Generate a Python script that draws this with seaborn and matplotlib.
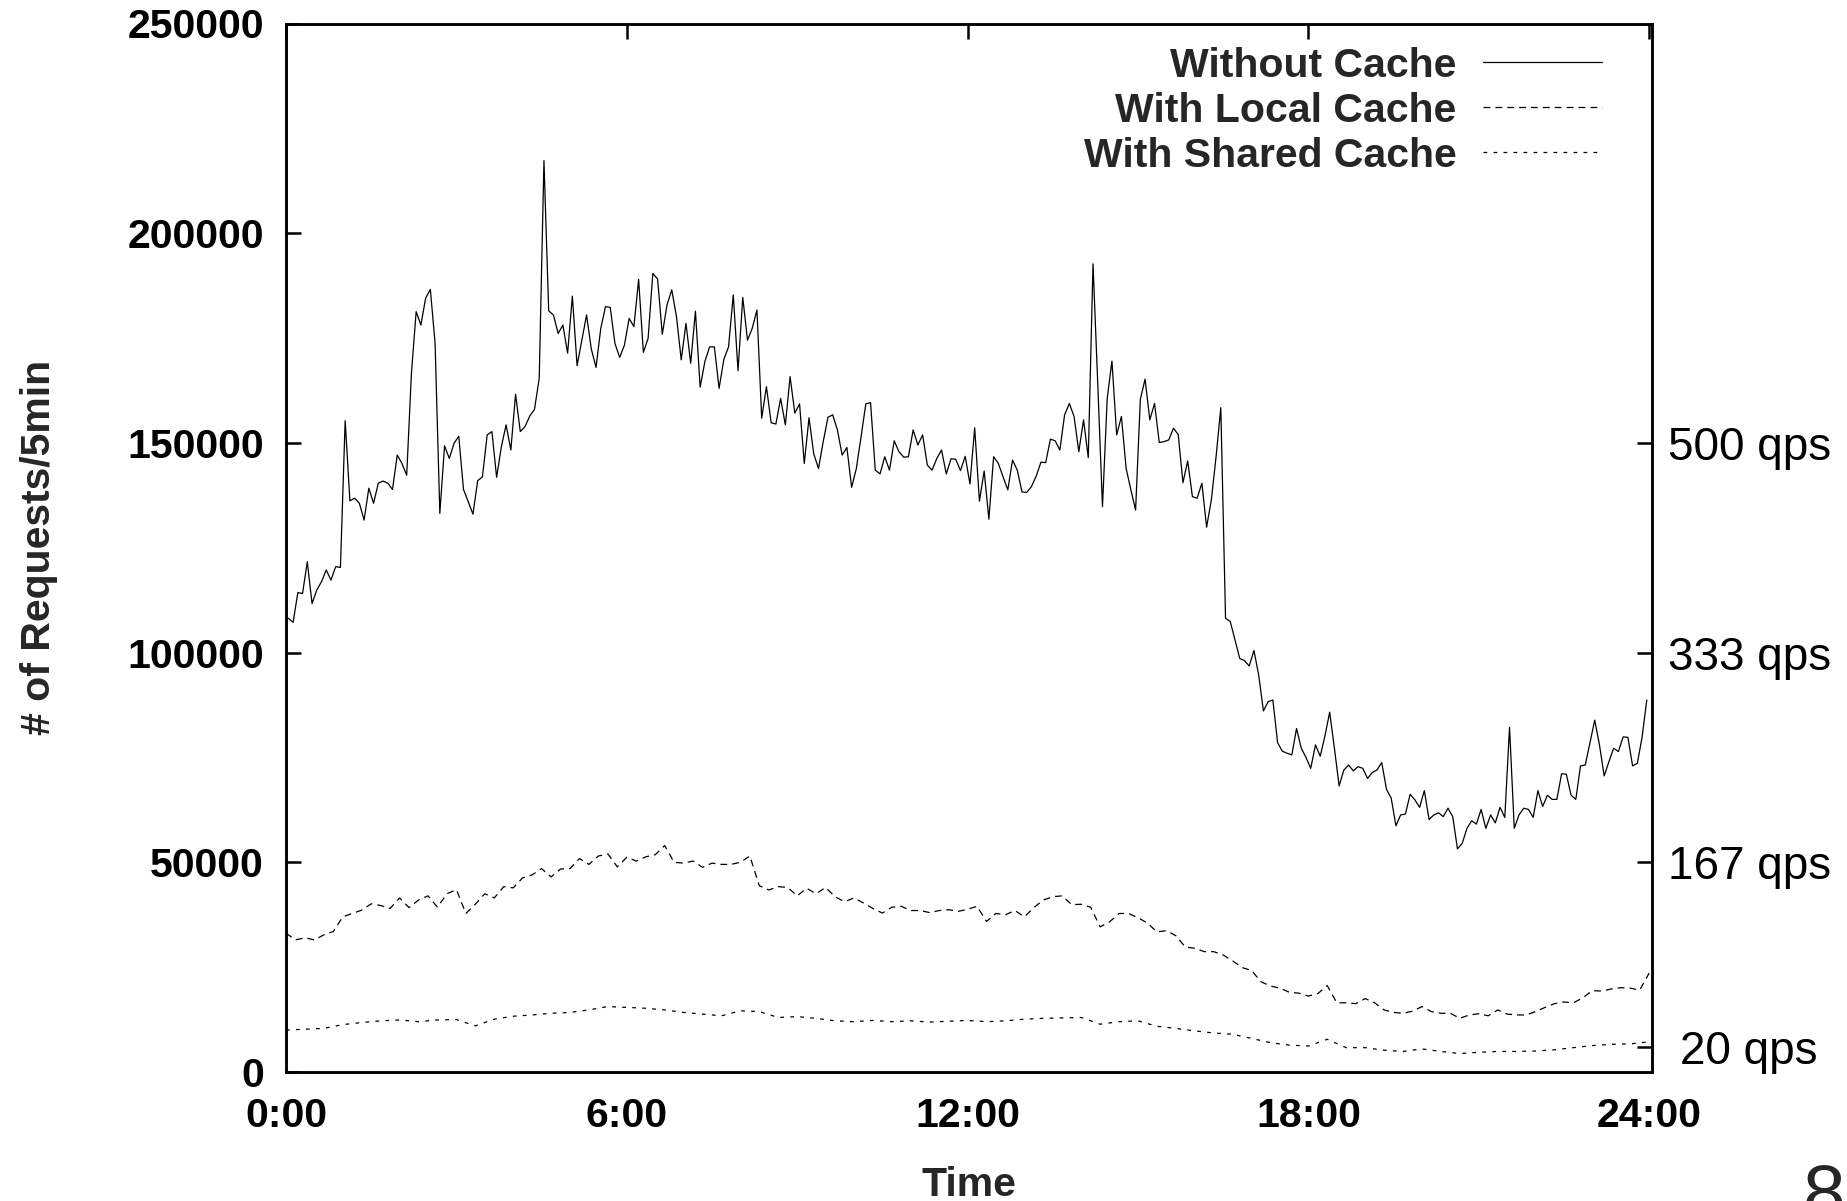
import numpy as np
import pandas as pd
import matplotlib
matplotlib.use("Agg")
import matplotlib.pyplot as plt
import seaborn as sns

# ---------------- data (values in thousands of requests per 5 min) ----------------
series_names = ["Without Cache", "With Local Cache", "With Shared Cache"]

# one value every 5 minutes
without_cache_k = [
    108.2, 107.2, 114.3, 114.1, 121.7, 111.7, 114.9, 116.9, 119.7, 117.3,
    120.5, 120.3, 155.3, 136.2, 136.8, 135.6, 131.6, 139.2, 135.6, 140.4,
    140.9, 140.4, 138.9, 147.1, 145.1, 142.3, 166.6, 181.3, 178.1, 184.5,
    186.6, 173.7, 133.2, 149.3, 146.3, 149.9, 151.6, 138.9, 136.0, 133.0,
    141.0, 141.9, 151.9, 152.7, 141.8, 149.1, 154.3, 148.3, 161.6, 152.7,
    153.9, 156.4, 158.0, 165.4, 217.3, 181.5, 180.5, 176.1, 178.1, 171.4,
    185.0, 168.4, 174.5, 180.5, 172.4, 168.0, 177.3, 182.5, 182.3, 173.7,
    170.4, 173.3, 179.7, 177.7,
    189.0, 171.6, 174.9, 190.4, 189.1, 175.9, 182.9, 186.5, 180.1, 169.8,
    178.5, 169.0, 181.4, 163.3, 169.4, 172.9, 172.9, 163.0, 169.9, 172.9,
    185.3, 167.2, 184.7, 174.5, 177.3, 181.7, 155.9, 163.4, 154.8, 154.5,
    160.6, 154.3, 165.8, 157.1, 159.3, 145.1, 156.0, 147.4, 143.9, 150.3,
    156.1, 156.7, 153.1, 147.1, 148.9, 139.4, 143.9, 151.5, 159.3, 159.6,
    143.5, 142.6, 146.7, 143.5, 150.5, 147.9, 146.6, 146.7, 153.1, 149.5,
    151.9, 144.7, 143.5, 146.3, 148.3, 142.6, 146.2, 146.1, 143.4, 146.8,
    140.2,
    153.6, 136.1, 143.3, 131.8, 146.7, 145.1, 141.9, 138.8, 145.9, 143.5,
    138.3, 138.2, 139.6, 142.1, 145.4, 145.3, 150.9, 150.5, 148.3, 156.7,
    159.4, 156.3, 147.9, 155.5, 146.5, 192.7, 164.2, 134.8, 160.6, 169.5,
    151.9, 156.3, 143.9, 138.8, 134.0, 160.4, 165.2, 155.5, 159.4, 150.1,
    150.3, 150.7, 153.5, 152.0, 140.5, 145.7, 137.2, 136.8, 140.4, 129.9,
    136.4, 146.7, 158.4,
    108.2, 107.4, 103.0, 98.6, 98.1, 96.8, 100.5, 94.7, 86.1, 88.3,
    88.7, 78.5, 76.5, 76.0, 75.6, 81.9, 77.2, 75.0, 72.4, 78.0,
    75.3, 80.1, 85.8, 77.2, 68.2, 72.0, 73.2, 71.8, 72.8, 72.4,
    70.0, 71.4, 72.0, 73.8, 67.4, 65.3, 58.7, 61.3, 61.5, 66.2,
    64.9, 63.1, 67.1, 60.2, 61.3, 61.8, 60.9, 62.9, 60.9, 53.2,
    54.5, 58.1, 59.9, 59.1, 62.6, 58.1, 61.3, 59.4, 63.1, 60.7,
    82.2, 58.1, 61.3, 62.9, 62.6, 60.7, 67.1, 63.3, 66.0, 65.0,
    65.0, 71.1, 71.0, 66.0, 65.0, 73.0, 73.2, 78.5, 83.9, 78.0,
    70.6, 74.0, 77.2, 76.4, 79.9, 79.8, 73.0, 73.6, 79.8, 88.7,
]

# one value every 10 minutes (0:00 .. 24:00)
local_cache_k = [
    33.1, 31.5, 32.0, 31.5, 32.7, 33.5, 37.0, 37.8, 38.6, 40.1,
    39.7, 39.0, 41.5, 39.2, 41.0, 42.0, 39.3, 42.5, 43.5, 37.8,
    40.0, 42.5, 41.5, 44.2, 43.9, 46.3, 47.0, 48.5, 46.5, 48.4,
    48.5, 50.9, 49.5, 51.5, 52.0, 48.9, 51.2, 50.3, 51.3, 51.8,
    54.0, 50.0, 49.8, 50.3, 48.8, 49.8, 49.5, 49.5, 50.0, 51.5,
    44.4, 43.4, 44.2, 44.0, 42.0, 43.8, 42.5, 44.0, 41.8, 40.6,
    41.5, 40.3, 39.0, 37.9, 39.3, 39.5, 38.5, 38.5, 38.0, 38.5,
    38.7, 38.3, 38.8,
    39.5, 35.9, 37.8, 37.5, 38.5, 37.0, 39.2, 41.0, 41.8, 42.0,
    39.9, 40.0, 39.3, 34.6, 35.8, 37.8, 37.8, 36.8, 35.5, 33.4,
    33.7, 32.5, 29.8, 29.5, 28.7, 28.7, 27.9, 26.5, 24.9, 24.2,
    21.5, 20.5, 20.0, 19.0, 18.8, 18.1, 18.7, 20.6, 16.5, 16.5,
    16.3, 17.5, 16.5, 14.8, 14.2, 14.0, 14.5, 15.6, 14.4, 14.0,
    14.0, 12.8, 13.6, 13.9, 13.4, 14.8, 13.8, 13.6, 13.6, 14.4,
    15.4, 16.3, 16.7, 16.5, 17.7, 19.4, 19.3, 19.8, 20.1, 20.0,
    19.5, 23.6,
]

# one value every 20 minutes (0:00 .. 24:00)
shared_cache_k = [
    10.0, 10.2, 10.4, 11.3, 11.8, 12.2, 12.4, 12.0, 12.4, 12.5,
    11.0, 12.6, 13.3, 13.6, 14.0, 14.2, 14.8, 15.6, 15.4, 15.2,
    14.8, 14.2, 13.8, 13.4, 14.6, 14.4, 13.0, 13.2, 12.8, 12.2,
    12.0, 12.3, 12.0, 12.2, 11.9, 12.1, 12.3,
    12.0, 12.2, 12.6, 12.8, 12.9, 13.0, 11.4, 12.0, 12.2, 10.9,
    10.4, 9.8, 9.3, 9.0, 8.0, 7.0, 6.4, 6.2, 7.8, 5.8,
    5.8, 5.2, 4.9, 5.5, 4.9, 4.4, 4.7, 4.9, 4.9, 5.0,
    5.3, 5.8, 6.3, 6.6, 6.7, 7.2,
]

x_tick_hours = [0, 6, 12, 18, 24]
x_tick_labels = ["0:00", "6:00", "12:00", "18:00", "24:00"]
y_ticks = [0, 50000, 100000, 150000, 200000, 250000]
qps_values = [20, 167, 333, 500]
qps_labels = ["20 qps", "167 qps", "333 qps", "500 qps"]

# ---------------- build long table ----------------
t_without = (np.arange(len(without_cache_k)) + 0.5) * 5 / 60
t_local = np.arange(len(local_cache_k)) * 10 / 60
t_shared = np.arange(len(shared_cache_k)) * 20 / 60

df = pd.concat([
    pd.DataFrame({"hour": t_without, "requests": np.array(without_cache_k) * 1000,
                  "series": series_names[0]}),
    pd.DataFrame({"hour": t_local, "requests": np.array(local_cache_k) * 1000,
                  "series": series_names[1]}),
    pd.DataFrame({"hour": t_shared, "requests": np.array(shared_cache_k) * 1000,
                  "series": series_names[2]}),
], ignore_index=True)

# ---------------- style ----------------
sns.set_style("white")
plt.rcParams["font.family"] = ["Liberation Sans", "DejaVu Sans"]

W, H = 1847, 1201
fig = plt.figure(figsize=(W / 100, H / 100), dpi=100)
ax = fig.add_axes([286 / W, 1 - 1072 / H, (1652 - 286) / W, (1072 - 23.5) / H])

dashes = {series_names[0]: "", series_names[1]: (5.5, 4.0), series_names[2]: (3.0, 5.0)}
palette = {n: "black" for n in series_names}
sns.lineplot(data=df, x="hour", y="requests", hue="series", style="series",
             hue_order=series_names, style_order=series_names,
             palette=palette, dashes=dashes, estimator=None, sort=True,
             linewidth=0.9, legend=False, ax=ax)

ax.set_xlim(0, 24.05)
ax.set_ylim(0, 250000)
ax.set_xticks(x_tick_hours)
ax.set_xticklabels(x_tick_labels)
ax.set_yticks(y_ticks)
ax.set_yticklabels([str(v) for v in y_ticks])
ax.tick_params(axis="both", direction="in", length=11, width=1.8, colors="black",
               labelsize=29.5, top=True, right=False)
ax.tick_params(axis="x", pad=18)
ax.tick_params(axis="y", pad=16)
for lab in ax.get_xticklabels() + ax.get_yticklabels():
    lab.set_fontweight("bold")

ax.set_xlabel("Time", fontsize=29.5, fontweight="bold", labelpad=22)
ax.set_ylabel("# of Requests/5min", fontsize=29.5, fontweight="bold", labelpad=50)

for sp in ax.spines.values():
    sp.set_linewidth(1.8)
    sp.set_color("black")

# right axis with qps labels (requests per 5 min = qps * 300)
ax2 = ax.twinx()
ax2.set_ylim(ax.get_ylim())
ax2.set_yticks([q * 300 for q in qps_values])
ax2.set_yticklabels(qps_labels)
ax2.tick_params(axis="y", direction="in", length=11, width=1.8, colors="black",
                labelsize=33, pad=70)
for lab in ax2.get_yticklabels():
    lab.set_horizontalalignment("center")
for sp in ax2.spines.values():
    sp.set_linewidth(1.8)
    sp.set_color("black")

# legend: text right-aligned, sample line on the right (gnuplot style)
handles = ax.lines[:3]
leg = ax.legend(handles, series_names, loc="upper right",
                bbox_to_anchor=(1602 / W, 0.961), bbox_transform=fig.transFigure,
                frameon=False, markerfirst=False, handlelength=2.9,
                handletextpad=0.65, labelspacing=0.17, borderpad=0.0,
                borderaxespad=0.0, prop={"size": 29.5, "weight": "bold"})
for t in leg.get_texts():
    t.set_horizontalalignment("right")
leg._legend_box.align = "right"

fig.text(1824 / W, 1 - 1163 / H, "8", fontsize=55, ha="center", va="top")

fig.savefig("out.png", dpi=100)
